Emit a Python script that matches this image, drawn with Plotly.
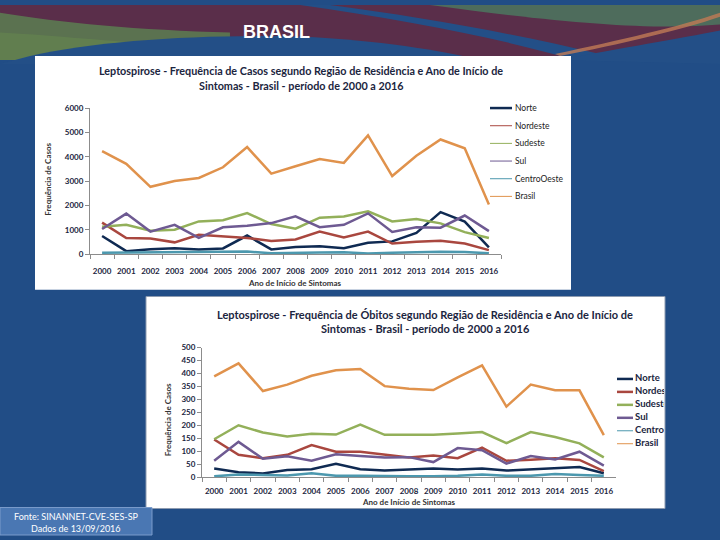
import plotly.graph_objects as go

# ---------------- data ----------------
years = ["2000", "2001", "2002", "2003", "2004", "2005", "2006", "2007", "2008",
         "2009", "2010", "2011", "2012", "2013", "2014", "2015", "2016"]
regions = ["Norte", "Nordeste", "Sudeste", "Sul", "CentroOeste", "Brasil"]
colors = ["#0F2A52", "#A9473F", "#93B05A", "#6E5A92", "#4C98AE", "#E0924C"]

# Casos (top chart)
casos_norte = [750, 130, 210, 250, 200, 240, 770, 200, 300, 330, 250, 470, 530, 880, 1730, 1340, 280]
casos_nordeste = [1300, 670, 650, 490, 800, 750, 670, 550, 610, 930, 690, 930, 440, 510, 560, 440, 170]
casos_sudeste = [1130, 1210, 970, 1010, 1350, 1400, 1690, 1240, 1050, 1500, 1550, 1760, 1350, 1450, 1270, 910, 670]
casos_sul = [1040, 1670, 930, 1210, 670, 1110, 1170, 1280, 1560, 1110, 1210, 1680, 920, 1110, 1090, 1590, 950]
casos_centro = [60, 70, 80, 80, 90, 100, 110, 40, 70, 70, 80, 30, 60, 90, 100, 90, 40]
casos_brasil = [4230, 3710, 2770, 3010, 3130, 3570, 4400, 3310, 3610, 3910, 3750, 4880, 3210, 4040, 4710, 4350, 2040]

# Óbitos (bottom chart)
obitos_norte = [33, 19, 14, 27, 30, 51, 30, 25, 29, 33, 29, 33, 25, 30, 35, 39, 15]
obitos_nordeste = [145, 86, 73, 86, 124, 98, 98, 88, 76, 83, 73, 114, 63, 67, 73, 66, 23]
obitos_sudeste = [146, 200, 172, 157, 167, 164, 203, 163, 163, 163, 168, 174, 131, 174, 155, 130, 76]
obitos_sul = [63, 136, 71, 80, 63, 88, 81, 76, 77, 58, 112, 104, 52, 81, 68, 98, 44]
obitos_centro = [3, 10, 8, 6, 15, 5, 5, 3, 3, 3, 5, 10, 5, 5, 12, 8, 5]
obitos_brasil = [389, 439, 332, 357, 391, 412, 417, 351, 341, 336, 385, 431, 272, 357, 335, 335, 162]

casos = [casos_norte, casos_nordeste, casos_sudeste, casos_sul, casos_centro, casos_brasil]
obitos = [obitos_norte, obitos_nordeste, obitos_sudeste, obitos_sul, obitos_centro, obitos_brasil]

title1 = ["Leptospirose - Frequência de Casos segundo Região de Residência e Ano de Início de",
          "Sintomas - Brasil - período de 2000 a 2016"]
title2 = ["Leptospirose - Frequência de Óbitos segundo Região de Residência e Ano de Início de",
          "Sintomas - Brasil - período de 2000 a 2016"]

# ---------------- helpers ----------------
W, H = 720, 540
def px(x):
    return x / W
def py(y):
    return 1 - y / H

BLUE = "#214D86"
FONT = "Lato, Open Sans, sans-serif"
TXT = "#1B2540"

fig = go.Figure()

for name, vals, col in zip(regions, casos, colors):
    fig.add_trace(go.Scatter(x=years, y=vals, mode="lines", name=name,
                             line=dict(color=col, width=2.5),
                             xaxis="x", yaxis="y", showlegend=False, hoverinfo="skip"))
for name, vals, col in zip(regions, obitos, colors):
    fig.add_trace(go.Scatter(x=years, y=vals, mode="lines", name=name,
                             line=dict(color=col, width=2.5),
                             xaxis="x2", yaxis="y2", showlegend=False, hoverinfo="skip"))

# bottom legend texts (clipped by the panel edge like the reference)
leg2_y0, leg2_dy = 381, 13.2
fig.add_trace(go.Scatter(x=[635] * len(regions),
                         y=[leg2_y0 + i * leg2_dy for i in range(len(regions))],
                         mode="text", text=regions, textposition="middle right",
                         textfont=dict(family=FONT, size=9.5, color=TXT, weight="bold"),
                         xaxis="x3", yaxis="y3", cliponaxis=True,
                         showlegend=False, hoverinfo="skip"))

shapes = []
def rect(x0, y0, x1, y1, fill, line=None, lw=0):
    shapes.append(dict(type="rect", xref="paper", yref="paper", layer="below",
                       x0=px(x0), x1=px(x1), y0=py(y1), y1=py(y0),
                       fillcolor=fill, line=dict(color=line or fill, width=lw)))

def path(pts_str, fill, opacity=1.0):
    shapes.append(dict(type="path", xref="paper", yref="paper", layer="below",
                       path=pts_str, fillcolor=fill, opacity=opacity, line=dict(width=0)))

def P(x, y):
    return f"{px(x):.4f},{py(y):.4f}"

# ---- decorative top band ----
rect(0, 0, 720, 56, "#5A2E4A")
path(f"M{P(0,8)} C{P(60,18)} {P(140,26)} {P(230,28)} L{P(230,56)} L{P(0,56)} Z", "#5C7650", 0.95)
path(f"M{P(0,28)} C{P(40,30)} {P(100,36)} {P(160,40)} L{P(160,56)} L{P(0,56)} Z", "#62804F", 0.9)
path(f"M{P(430,0)} L{P(720,0)} L{P(720,20)} C{P(650,26)} {P(560,18)} {P(430,0)} Z", "#4E6C5C")
path(f"M{P(300,0)} L{P(330,0)} C{P(420,12)} {P(520,30)} {P(600,50)} L{P(575,56)} C{P(500,34)} {P(410,16)} {P(300,0)} Z", "#234F87")
path(f"M{P(0,60)} L{P(30,52)} C{P(100,36)} {P(200,30)} {P(300,32)} C{P(380,36)} {P(440,46)} {P(480,56)} L{P(480,60)} Z", "#234F87")
path(f"M{P(560,56)} C{P(620,44)} {P(680,34)} {P(720,26)} L{P(720,60)} Z", "#234F87")
path(f"M{P(555,50)} C{P(620,36)} {P(680,22)} {P(720,8)} L{P(720,12)} C{P(680,26)} {P(620,40)} {P(560,52)} Z", "#C07A55", 0.8)

# ---- white chart panels ----
rect(35, 52, 571, 290, "white")
rect(146, 297, 665, 513, "white", line="#8D9BB0", lw=1)

# ---- footer box ----
rect(0, 512, 152, 540, "#4A77B3", line="#7A9CCB", lw=1)

# ---- top legend ----
leg1_y0, leg1_dy = 105, 18
for i, (name, col) in enumerate(zip(regions, colors)):
    yy = leg1_y0 + i * leg1_dy
    shapes.append(dict(type="line", xref="paper", yref="paper", layer="above",
                       x0=px(490), x1=px(512), y0=py(yy), y1=py(yy),
                       line=dict(color=col, width=2.5 if i == 0 else 1)))
# ---- bottom legend lines ----
for i, (name, col) in enumerate(zip(regions, colors)):
    yy = leg2_y0 + i * leg2_dy
    shapes.append(dict(type="line", xref="paper", yref="paper", layer="above",
                       x0=px(617), x1=px(633), y0=py(yy), y1=py(yy),
                       line=dict(color=col, width=2.5 if i < 4 else 1)))

annotations = []
def ann(text, x, y, size, bold=False, color=TXT, xanchor="center", angle=0, family=FONT):
    annotations.append(dict(text=text, x=px(x), y=py(y), xref="paper", yref="paper",
                            xanchor=xanchor, yanchor="middle", showarrow=False, textangle=angle,
                            font=dict(family=family, size=size, color=color,
                                      weight="bold" if bold else "normal")))

ann("BRASIL", 276, 27, 18, bold=True, color="white", family="Liberation Sans, Arial, sans-serif")
ann(title1[0], 301, 67, 10.8, bold=True)
ann(title1[1], 301, 82, 10.8, bold=True)
ann(title2[0], 425, 315, 11, bold=True)
ann(title2[1], 425, 330, 11, bold=True)
ann("Ano de Início de Sintomas", 295, 283, 8, bold=True, color="#333")
ann("Frequência de Casos", 48, 178, 8, bold=True, color="#333", angle=-90)
ann("Ano de Início de Sintomas", 409, 506.5, 8, bold=True, color="#333")
ann("Frequência de Casos", 168, 423, 8, bold=True, color="#333", angle=-90)
for i, name in enumerate(regions):
    ann(name, 513, leg1_y0 + i * leg1_dy, 8.5, color="#222", xanchor="left")
ann("Fonte: SINANNET-CVE-SES-SP", 76, 521, 9, color="white")
ann("Dados de 13/09/2016", 76, 533, 9, color="white")

xcommon = dict(type="category", categoryorder="array", categoryarray=years,
               range=[-0.5, len(years) - 0.5], showline=True, linecolor="#8C8C8C",
               linewidth=1, ticks="outside", tickson="boundaries", ticklen=4,
               tickcolor="#8C8C8C", showgrid=False, zeroline=False, fixedrange=True,
               tickangle=0,
               tickfont=dict(family=FONT, size=8, color=TXT, weight="bold"))
ycommon = dict(showline=True, linecolor="#8C8C8C", linewidth=1, ticks="outside",
               ticklen=4, tickcolor="#8C8C8C", showgrid=False, zeroline=False,
               fixedrange=True, tickfont=dict(family=FONT, size=8, color=TXT, weight="bold"))

fig.update_layout(
    width=W, height=H, margin=dict(l=0, r=0, t=0, b=0),
    paper_bgcolor=BLUE, plot_bgcolor="rgba(0,0,0,0)",
    showlegend=False,
    xaxis=dict(domain=[px(90), px(501)], anchor="y", ticklabelstandoff=9, **xcommon),
    yaxis=dict(domain=[py(254), py(105)], anchor="x", range=[0, 6000], dtick=1000, **ycommon),
    xaxis2=dict(domain=[px(202), px(616)], anchor="y2", ticklabelstandoff=6, **xcommon),
    yaxis2=dict(domain=[py(481), py(349)], anchor="x2", range=[0, 500], dtick=50, **ycommon),
    xaxis3=dict(domain=[px(612), px(664)], anchor="y3", range=[612, 664], visible=False, fixedrange=True),
    yaxis3=dict(domain=[py(460), py(370)], anchor="x3", range=[460, 370], visible=False, fixedrange=True),
    shapes=shapes, annotations=annotations,
)

fig.write_html("out.html")
